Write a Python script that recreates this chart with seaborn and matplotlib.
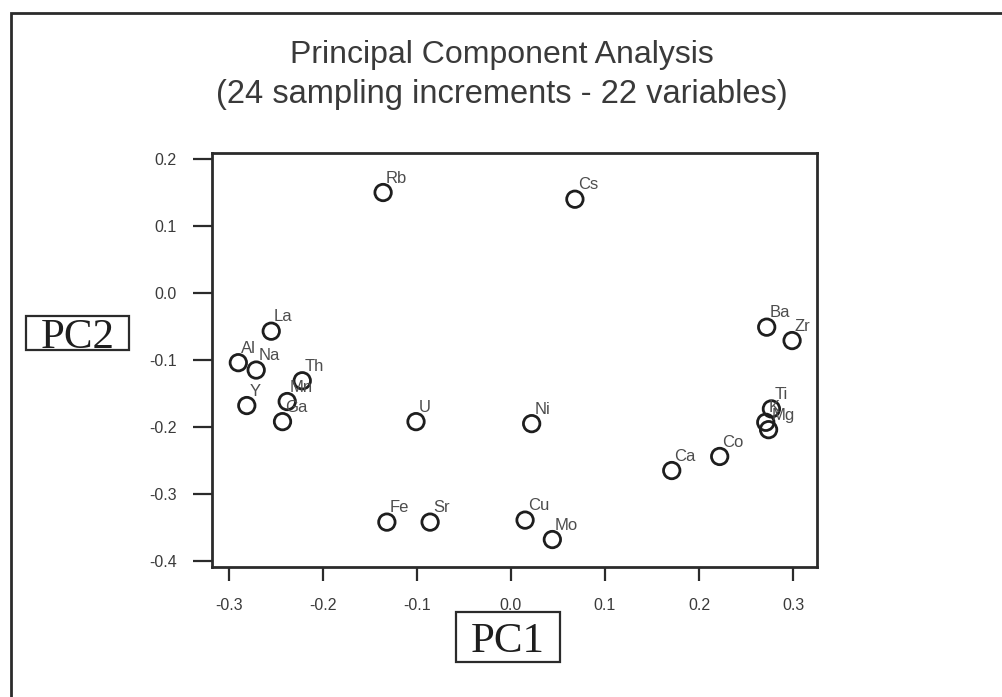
import matplotlib
matplotlib.use("Agg")
import matplotlib.pyplot as plt
from matplotlib.patches import Rectangle
import seaborn as sns
import pandas as pd

# PCA loadings of the 22 variables on the first two components
elements = ["Rb", "Cs", "La", "Al", "Na", "Th", "Y", "Mn", "Ga", "U", "Ni",
            "Fe", "Sr", "Cu", "Mo", "Ca", "Co", "Ba", "Zr", "Ti", "K", "Mg"]
pc1 = [-0.136, 0.068, -0.255, -0.290, -0.271, -0.222, -0.281, -0.238, -0.243,
       -0.101, 0.022, -0.132, -0.086, 0.015, 0.044, 0.171, 0.222, 0.272,
       0.299, 0.277, 0.271, 0.274]
pc2 = [0.150, 0.140, -0.057, -0.104, -0.115, -0.131, -0.168, -0.162, -0.192,
       -0.192, -0.195, -0.342, -0.342, -0.339, -0.368, -0.265, -0.244, -0.051,
       -0.071, -0.173, -0.193, -0.204]

x_ticks = [-0.3, -0.2, -0.1, 0.0, 0.1, 0.2, 0.3]
y_ticks = [0.2, 0.1, 0.0, -0.1, -0.2, -0.3, -0.4]

title_line1 = "Principal Component Analysis"
title_line2 = "(24 sampling increments - 22 variables)"

df = pd.DataFrame({"element": elements, "PC1": pc1, "PC2": pc2})

sns.set_theme(style="white")
plt.rcParams["font.family"] = ["Liberation Sans", "DejaVu Sans"]

W, H = 1003, 697
fig = plt.figure(figsize=(W / 100, H / 100), dpi=100)
fig.patch.set_facecolor("white")

def fx(px):
    return px / W

def fy(py):
    return 1 - py / H

ink = "#2b2b2b"
txt = "#3a3a3a"

# outer frame (open to the right and bottom)
fig.patches.append(Rectangle((fx(11), fy(13) - 1.2), 1.2, 1.2, transform=fig.transFigure,
                             fill=False, edgecolor=ink, linewidth=2.0, clip_on=False))

ax = fig.add_axes([fx(212), fy(567), fx(817) - fx(212), fy(153) - fy(567)])
sns.scatterplot(data=df, x="PC1", y="PC2", ax=ax, s=140, marker="o",
                facecolor="none", edgecolor="#1e1e1e", linewidth=2.0,
                legend=False, zorder=3)

for name, xv, yv in zip(elements, pc1, pc2):
    ax.annotate(name, (xv, yv), xytext=(2.0, 5.0), textcoords="offset points",
                ha="left", va="bottom", fontsize=12, color="#4d4d4d")

ax.set_xlim(-0.318, 0.3255)
ax.set_ylim(-0.409, 0.209)
ax.set_xticks(x_ticks)
ax.set_yticks(y_ticks)
ax.set_xticklabels([f"{v:.1f}" for v in x_ticks])
ax.set_yticklabels([f"{v:.1f}" for v in y_ticks])
ax.set_xlabel("")
ax.set_ylabel("")
ax.set_facecolor("white")
for sp in ax.spines.values():
    sp.set_visible(True)
    sp.set_color(ink)
    sp.set_linewidth(2.0)
ax.tick_params(axis="x", direction="out", length=10, width=1.6, color=ink,
               labelsize=11.5, labelcolor=txt, pad=12, bottom=True)
ax.tick_params(axis="y", direction="out", length=13.5, width=1.6, color=ink,
               labelsize=11.5, labelcolor=txt, pad=12, left=True)

# two-line title centred on the figure
fig.text(0.5, fy(55), title_line1, ha="center", va="center", fontsize=23, color=txt)
fig.text(0.5, fy(95), title_line2, ha="center", va="center", fontsize=23.5, color=txt)

# boxed axis names
def boxed(label, x0, y0, x1, y1):
    fig.patches.append(Rectangle((fx(x0), fy(y1)), fx(x1) - fx(x0), fy(y0) - fy(y1),
                                 transform=fig.transFigure, fill=False,
                                 edgecolor=ink, linewidth=1.6))
    fig.text(fx((x0 + x1) / 2), fy((y0 + y1) / 2), label, ha="center", va="center_baseline",
             fontsize=31, family="Liberation Serif", color="#1e1e1e")

boxed("PC2", 26, 316, 129, 350)
boxed("PC1", 456, 612, 560, 662)

fig.savefig("out.png", dpi=100, facecolor="white")
